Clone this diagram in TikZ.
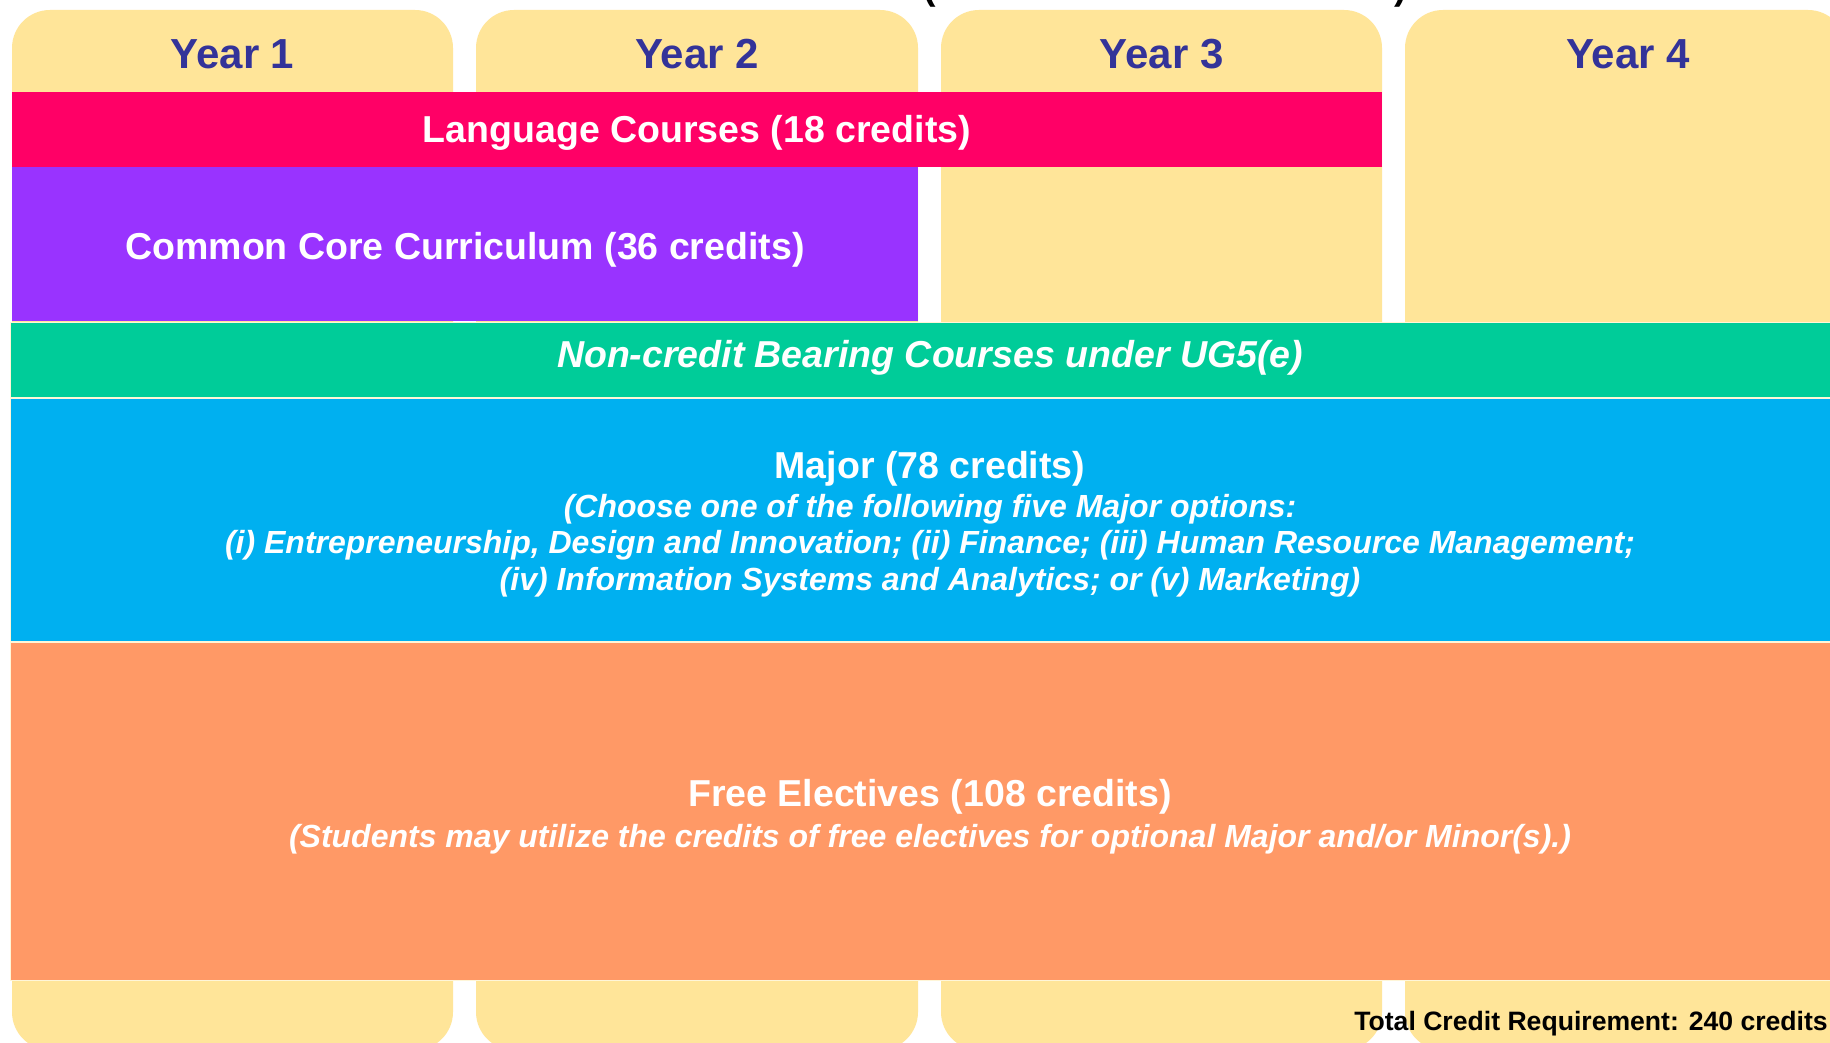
\documentclass[tikz,border=0pt]{standalone}
\usepackage{fontspec}
\setmainfont{Liberation Sans}
\definecolor{yearfill}{HTML}{FFE599}
\definecolor{yeartext}{HTML}{333399}
\definecolor{langfill}{HTML}{FF0066}
\definecolor{corefill}{HTML}{9933FF}
\definecolor{ncfill}{HTML}{00CC99}
\definecolor{majfill}{HTML}{00B0F0}
\definecolor{freefill}{HTML}{FF9966}
\definecolor{sepline}{HTML}{FFF6D8}
\tikzset{
  yearcol/.style={fill=yearfill, rounded corners=38pt},
  barbox/.style={draw=sepline, line width=0.8pt},
  yearlabel/.style={anchor=base, inner sep=0pt, text=yeartext, font=\fontsize{42}{50}\selectfont\bfseries},
  barlabel/.style={anchor=base, inner sep=0pt, text=white, font=\fontsize{37.5}{45}\selectfont\bfseries},
  barlabelit/.style={anchor=base, inner sep=0pt, text=white, font=\fontsize{37.5}{45}\selectfont\bfseries\itshape},
  sublabel/.style={anchor=base, inner sep=0pt, text=white, font=\fontsize{32}{38}\selectfont\bfseries\itshape},
  totallabel/.style={anchor=base east, inner sep=0pt, text=black, font=\fontsize{26.6}{32}\selectfont\bfseries},
  cuttitle/.style={anchor=base, inner sep=0pt, text=black, font=\fontsize{37.5}{45}\selectfont\bfseries}
}
\begin{document}
\begin{tikzpicture}[x=1pt,y=-1pt]
\useasboundingbox (0,0) rectangle (1830,1043);
\clip (0,0) rectangle (1830,1043);
\fill[white] (0,0) rectangle (1830,1043);
% year columns
\fill[yearcol] (12,10) rectangle (453,1050);
\fill[yearcol] (476,10) rectangle (918,1050);
\fill[yearcol] (941,10) rectangle (1382,1050);
\fill[yearcol] (1405,10) rectangle (1846,1050);
% cut-off title above the picture
\node[cuttitle] (tl) at (930,0) {(};
\node[cuttitle] (tr) at (1401,0) {)};
% year labels
\node[yearlabel] (y1) at (232.5,69) {Year 1};
\node[yearlabel] (y2) at (697,69) {Year 2};
\node[yearlabel] (y3) at (1161.5,69) {Year 3};
\node[yearlabel] (y4) at (1628,69) {Year 4};
% bars
\fill[langfill] (12,92) rectangle (1382,167);
\fill[corefill] (12,167) rectangle (918,321);
\filldraw[barbox, fill=ncfill] (10,322) rectangle (1850,397);
\filldraw[barbox, fill=majfill] (10,398) rectangle (1850,641);
\filldraw[barbox, fill=freefill] (10,642) rectangle (1850,980);
% bar labels
\node[barlabel] (lang) at (697,143) {Language Courses (18 credits)};
\node[barlabel] (core) at (465,259) {Common Core Curriculum (36 credits)};
\node[barlabelit] (nc) at (930,367) {Non-credit Bearing Courses under UG5(e)};
\node[barlabel] (maj) at (930,478) {Major (78 credits)};
\node[sublabel] (maj1) at (930,517) {(Choose one of the following five Major options:};
\node[sublabel] (maj2) at (930,553) {(i) Entrepreneurship, Design and Innovation; (ii) Finance; (iii) Human Resource Management;};
\node[sublabel] (maj3) at (930,590) {(iv) Information Systems and Analytics; or (v) Marketing)};
\node[barlabel] (free) at (930,806) {Free Electives (108 credits)};
\node[sublabel] (free1) at (930,847) {(Students may utilize the credits of free electives for optional Major and/or Minor(s).)};
\node[totallabel] (total) at (1828,1030) {Total Credit Requirement: 240 credits};
\end{tikzpicture}
\end{document}
